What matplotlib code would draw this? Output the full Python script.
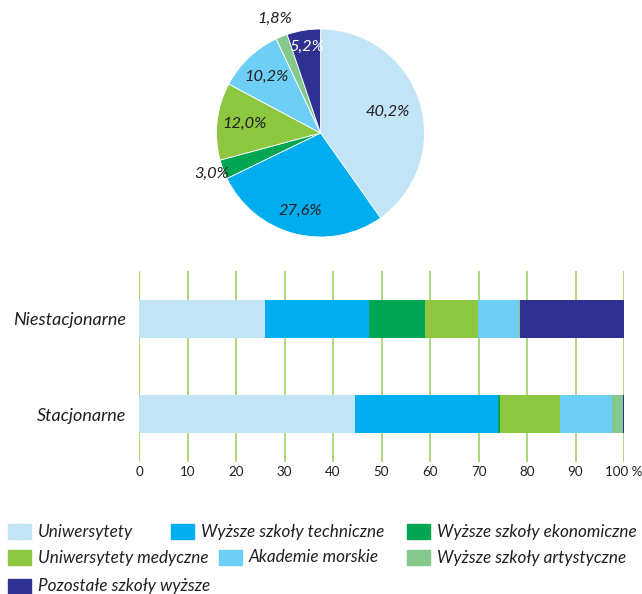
#!/usr/bin/env python3
"""Struktura studentów wg typu szkoły - pie + stacked bars."""

import matplotlib
matplotlib.use("Agg")
import matplotlib.pyplot as plt
import numpy as np
from matplotlib.patches import Rectangle

W, H = 642, 594

categories = [
    "Uniwersytety",
    "Wyższe szkoły techniczne",
    "Wyższe szkoły ekonomiczne",
    "Uniwersytety medyczne",
    "Akademie morskie",
    "Wyższe szkoły artystyczne",
    "Pozostałe szkoły wyższe",
]
colors = ["#c1e5f7", "#00aeef", "#00a651", "#8dc63f", "#6dcff6", "#84c98b", "#2e3192"]

pie_values = [40.2, 27.6, 3.0, 12.0, 10.2, 1.8, 5.2]
pie_label_r = [0.68, 0.77, 1.12, 0.74, 0.75, 1.18, 0.84]
pie_label_colors = ["#231f20"] * 6 + ["white"]

bar_rows = ["Stacjonarne", "Niestacjonarne"]
stacj = [44.5, 29.6, 0.4, 12.3, 10.7, 2.35, 0.15]
niestacj = [26.0, 21.4, 11.6, 10.8, 8.6, 0.2, 21.4]
ticks = [0, 10, 20, 30, 40, 50, 60, 70, 80, 90, 100]
tick_labels = ["0", "10", "20", "30", "40", "50", "60", "70", "80", "90", "100 %"]

FONT = "Lato"
TXT = "#231f20"


def box(x0, y0, x1, y1):
    """pixel box (top-left origin) -> figure fraction rect"""
    return [x0 / W, 1 - y1 / H, (x1 - x0) / W, (y1 - y0) / H]


fig = plt.figure(figsize=(W / 100, H / 100), dpi=100)

# --- pie ---
ax_pie = fig.add_axes(box(216, 29, 425, 237))
wedges, _ = ax_pie.pie(pie_values, colors=colors, startangle=90, counterclock=False,
                       wedgeprops=dict(edgecolor="white", linewidth=0.6))
ax_pie.set_xlim(-1, 1)
ax_pie.set_ylim(-1, 1)
ax_pie.set_aspect("equal")
for w, v, r, c in zip(wedges, pie_values, pie_label_r, pie_label_colors):
    ang = np.deg2rad((w.theta1 + w.theta2) / 2)
    ax_pie.text(r * np.cos(ang), r * np.sin(ang), f"{v:.1f}%".replace(".", ","),
                ha="center", va="center", fontsize=11.8, style="italic",
                family=FONT, color=c)

# --- bars ---
ax = fig.add_axes(box(139, 271, 624, 462))
for x in ticks:
    ax.axvline(x, color="#a8d472", lw=1.3, zorder=0)
data = [stacj, niestacj]
for yi, row in enumerate(data):
    left = 0
    for v, c in zip(row, colors):
        ax.barh(yi, v, left=left, height=0.4, color=c, linewidth=0, zorder=2)
        left += v
ax.set_xlim(0, 100)
ax.set_ylim(-0.5, 1.5)
ax.set_xticks(ticks)
ax.set_xticklabels(tick_labels, family=FONT, fontsize=9.6, color=TXT)
ax.set_yticks([0, 1])
ax.set_yticklabels(bar_rows, family=FONT, fontsize=13, style="italic", color=TXT)
ax.tick_params(length=0, axis="x", pad=3)
ax.tick_params(length=0, axis="y", pad=9)
for s in ax.spines.values():
    s.set_visible(False)

# --- legend (flow layout like the original) ---
leg_x = [8, 171, 407, 8, 219, 407, 8]
leg_y = [531.5, 531.5, 531.5, 557.5, 557.5, 557.5, 586.5]
for name, c, x, y in zip(categories, colors, leg_x, leg_y):
    fig.patches.append(Rectangle((x / W, 1 - (y + 7.5) / H), 23 / W, 15 / H,
                                 transform=fig.transFigure, color=c))
    fig.text((x + 30) / W, 1 - y / H, name, ha="left", va="center",
             fontsize=12.3, style="italic", family=FONT, color=TXT)

fig.savefig("out.png", dpi=100)
